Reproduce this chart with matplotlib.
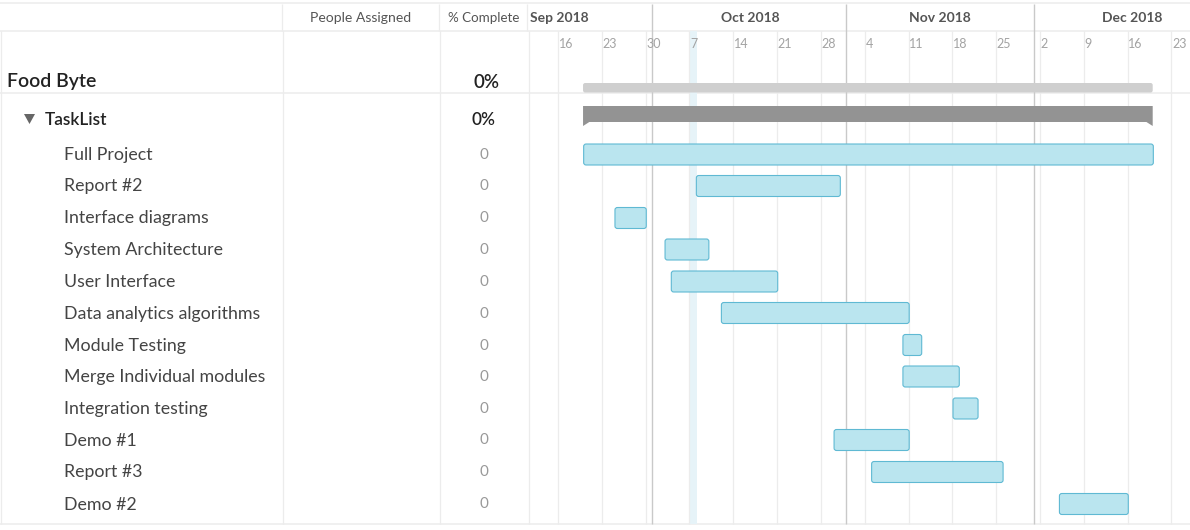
import pandas as pd
import matplotlib.pyplot as plt
import matplotlib.dates as mdates
from matplotlib.patches import FancyBboxPatch

plt.rcParams["font.family"] = ["Lato", "DejaVu Sans"]

project_name = "Food Byte"
group_name = "TaskList"
project_pct = "0%"
group_pct = "0%"

tasks = ["Full Project", "Report #2", "Interface diagrams", "System Architecture",
         "User Interface", "Data analytics algorithms", "Module Testing",
         "Merge Individual modules", "Integration testing", "Demo #1", "Report #3", "Demo #2"]
starts = ["2018-09-20", "2018-10-08", "2018-09-25", "2018-10-03", "2018-10-04", "2018-10-12",
          "2018-11-10", "2018-11-10", "2018-11-18", "2018-10-30", "2018-11-05", "2018-12-05"]
ends = ["2018-12-20", "2018-10-31", "2018-09-30", "2018-10-10", "2018-10-21", "2018-11-11",
        "2018-11-13", "2018-11-19", "2018-11-22", "2018-11-11", "2018-11-26", "2018-12-16"]
complete = [0, 0, 0, 0, 0, 0, 0, 0, 0, 0, 0, 0]

week_ticks = pd.date_range("2018-09-16", "2018-12-23", freq="7D")
month_starts = ["2018-10-01", "2018-11-01", "2018-12-01"]
month_labels = ["Sep 2018", "Oct 2018", "Nov 2018", "Dec 2018"]
today = "2018-10-07"

row_y = [154, 185.5, 217.5, 249, 281, 312.5, 344.5, 376, 408, 439.5, 471.5, 503.5]
month_x = [559, 750, 940, 1132]

line_col = "#ececec"
bar_col = "#bae5ef"
bar_edge = "#5fb9d3"

fig = plt.figure(figsize=(11.9, 5.3), dpi=100, facecolor="white")

# left side table, axes in pixels
tab = fig.add_axes([0, 0, 1, 1])
tab.set_xlim(0, 1190)
tab.set_ylim(530, 0)
tab.axis("off")

tab.hlines([3, 31, 92.5, 524], 0, 1190, color=line_col, lw=1.1)
tab.vlines([283, 440, 529], 31, 524, color=line_col, lw=0.9)
tab.vlines([282, 439, 527], 4, 31, color=line_col, lw=0.9)
tab.vlines([1], 31, 524, color=line_col, lw=0.9)

tab.text(361, 17.5, "People Assigned", ha="center", va="center", fontsize=10.1, color="#555555")
tab.text(484, 17.5, "% Complete", ha="center", va="center", fontsize=9.6, color="#555555")

tab.text(7, 82, project_name, ha="left", va="center", fontsize=14, color="#222222", fontweight="semibold")
tab.text(487, 82, project_pct, ha="center", va="center", fontsize=13.5, color="#222222", fontweight="semibold")
tab.text(45, 120, group_name, ha="left", va="center", fontsize=12.3, color="#222222", fontweight="semibold")
tab.text(484, 120, group_pct, ha="center", va="center", fontsize=12.3, color="#222222", fontweight="semibold")
tab.fill([24, 35, 29.5], [114, 114, 124], color="#666666", lw=0)

for y, name, pct in zip(row_y, tasks, complete):
    tab.text(64, y + 1, name, ha="left", va="center", fontsize=12.75, color="#444444")
    tab.text(484, y + 1, str(pct), ha="center", va="center", fontsize=11, color="#999999")

# gantt area
gantt = fig.add_axes([529 / 1190, 0, 661 / 1190, 1])
gantt.patch.set_alpha(0)
px_per_day = 6.26
sep16 = mdates.date2num(pd.Timestamp("2018-09-16"))
gantt.set_xlim(sep16 - 29 / px_per_day, sep16 + 632 / px_per_day)
gantt.set_ylim(530, 0)
gantt.axis("off")

today_num = mdates.date2num(pd.Timestamp(today))
gantt.axvspan(today_num + 0.08, today_num + 1.15, ymin=1 - 524 / 530, ymax=1 - 31 / 530, color="#e6f3f8", lw=0, zorder=1)

week_nums = mdates.date2num(week_ticks)
gantt.vlines(week_nums, 31, 524, color=line_col, lw=0.9, zorder=2)
for d, x in zip(week_ticks, week_nums):
    gantt.text(x + 0.1, 43.5, str(d.day), ha="left", va="center", fontsize=9, color="#a3a3a3", zorder=5)

month_nums = mdates.date2num(pd.to_datetime(month_starts))
gantt.vlines(month_nums - 0.04, 4, 524, color="#c9c9c9", lw=1, zorder=3)

for x, label in zip(month_x, month_labels):
    tab.text(x, 18, label, ha="center", va="center", fontsize=10, color="#555555", fontweight="bold")

s_num = mdates.date2num(pd.to_datetime(starts))
e_num = mdates.date2num(pd.to_datetime(ends))
first, last = s_num.min(), e_num.max()

# project and group summary bars
gantt.add_patch(FancyBboxPatch((first, 83), last - first, 9.5, boxstyle="round,pad=0,rounding_size=0.35",
                               mutation_aspect=6, fc="#cfcfcf", ec="none", zorder=4))
gantt.fill([first, last, last, last - 1, first + 1, first], [106, 106, 126, 122, 122, 126],
           color="#939393", lw=0, zorder=4)

for y, s, e in zip(row_y, s_num, e_num):
    gantt.add_patch(FancyBboxPatch((s + 0.1, y - 10), e - s, 21, boxstyle="round,pad=0,rounding_size=0.4",
                                   mutation_aspect=6, fc=bar_col, ec=bar_edge, lw=0.8, zorder=4))

fig.savefig("out.png", dpi=100)
